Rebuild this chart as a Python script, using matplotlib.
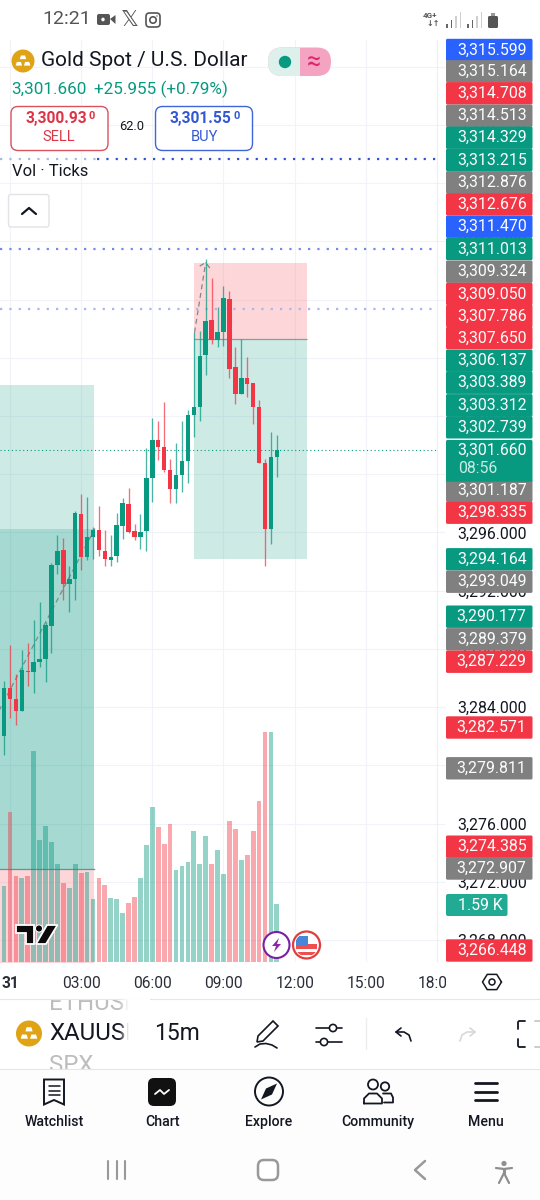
import numpy as np
import matplotlib
matplotlib.use('Agg')
import matplotlib.pyplot as plt
from matplotlib.patches import FancyBboxPatch, Rectangle, Circle, Polygon
from matplotlib.ticker import FuncFormatter

plt.rcParams['font.family'] = ['Roboto', 'DejaVu Sans']

# 15m bars, hours from midnight of the 31st
hours = [-0.5, -0.25, 0.0, 0.25, 0.5, 0.75, 1.0, 1.25, 1.5, 1.75, 2.0, 2.25, 2.5, 2.75, 3.0, 3.25,
         3.5, 3.75, 4.0, 4.25, 4.5, 4.75, 5.0, 5.25, 5.5, 5.75, 6.0, 6.25, 6.5, 6.75, 7.0, 7.25,
         7.5, 7.75, 8.0, 8.25, 8.5, 8.75, 9.0, 9.25, 9.5, 9.75, 10.0, 10.25, 10.5, 10.75, 11.0, 11.25]
opens = [3279.52, 3282.01, 3285.31, 3284.58, 3283.73, 3286.52, 3286.39, 3287.14, 3287.30, 3289.61, 3293.80, 3294.77, 3292.48, 3292.80,
         3297.28, 3294.31, 3295.68, 3296.14, 3294.76, 3294.08, 3294.37, 3296.48, 3297.97, 3296.07, 3295.72, 3296.07, 3299.73, 3302.37,
         3301.86, 3300.30, 3299.00, 3299.98, 3300.94, 3304.08, 3304.65, 3308.18, 3310.58, 3309.19, 3309.76, 3312.05, 3307.38, 3305.48,
         3306.62, 3306.26, 3304.61, 3300.76, 3296.23, 3301.17]
highs = [3282.74, 3285.79, 3288.24, 3286.30, 3287.94, 3288.40, 3289.96, 3291.26, 3289.84, 3293.90, 3295.84, 3295.64, 3293.69, 3297.51,
         3298.61, 3298.43, 3296.37, 3297.81, 3296.14, 3295.84, 3297.37, 3298.38, 3299.05, 3296.60, 3297.24, 3301.81, 3303.83, 3303.69,
         3304.97, 3301.08, 3302.18, 3303.69, 3304.38, 3309.74, 3309.83, 3314.80, 3313.47, 3311.52, 3312.96, 3312.57, 3308.73, 3309.28,
         3308.04, 3306.26, 3305.07, 3301.04, 3302.91, 3302.69]
lows = [3279.24, 3280.75, 3283.27, 3282.75, 3283.73, 3285.43, 3284.97, 3286.75, 3285.72, 3287.71, 3293.16, 3291.33, 3290.51, 3291.38,
        3293.44, 3294.12, 3294.21, 3294.42, 3293.69, 3293.69, 3293.96, 3295.54, 3295.95, 3295.50, 3294.88, 3294.72, 3298.11, 3300.99,
        3300.14, 3298.01, 3298.01, 3298.77, 3299.43, 3302.55, 3303.69, 3306.83, 3308.96, 3308.73, 3308.82, 3306.60, 3304.84, 3305.48,
        3305.29, 3303.42, 3300.76, 3293.69, 3295.18, 3299.80]
closes = [3281.99, 3285.33, 3284.58, 3283.73, 3286.57, 3286.39, 3287.14, 3287.33, 3289.68, 3293.74, 3294.72, 3292.48, 3292.80, 3297.33,
          3294.31, 3295.68, 3296.18, 3294.83, 3294.17, 3294.35, 3296.50, 3298.01, 3296.02, 3295.72, 3296.02, 3299.73, 3302.37, 3301.86,
          3300.30, 3298.98, 3299.98, 3300.90, 3304.06, 3304.61, 3308.13, 3310.56, 3309.19, 3309.74, 3312.12, 3307.26, 3305.48, 3306.62,
          3306.19, 3304.61, 3300.76, 3296.23, 3301.17, 3301.66]
volumes = [1417, 2075, 4113, 2349, 2294, 2349, 5776, 3354, 3720, 3300, 2678, 2175, 2029, 2678, 2450, 2468,
           1718, 2312, 2102, 1764, 1737, 1344, 1627, 1791, 2312, 3217, 4250, 3693, 3226, 3793, 2514, 2623,
           2733, 3601, 2687, 3446, 2696, 3062, 2422, 3875, 3638, 2788, 2934, 3601, 4405, 6307, 6297, 1590]

# position tools: (start, end, levels)
left_span = [-2.0, 3.53]
left_target = 3306.137
left_inner = 3296.21
left_entry = 3272.907
left_stop = 3266.448
right_span = [7.74, 12.50]
right_stop = 3314.513
right_entry = 3309.324
right_target = 3294.164

wave_hours = [-0.5, 3.58]
wave_prices = [3283.64, 3296.27]
arrow_hours = [7.78, 8.25]
arrow_prices = [3309.74, 3314.54]
head_hours = [8.0, 8.25, 8.5]
head_prices = [3314.30, 3314.54, 3314.0]

alert_levels = [3321.62, 3315.44, 3311.32]
last_price = 3301.66

price_ticks = [3268, 3272, 3276, 3280, 3284, 3288, 3292, 3296, 3300, 3304, 3308, 3312, 3316, 3320, 3324, 3328]
time_ticks = [0, 3, 6, 9, 12, 15, 18]
time_labels = ['31', '03:00', '06:00', '09:00', '12:00', '15:00', '18:00']

label_texts = ['3,315.599', '3,315.164', '3,314.708', '3,314.513', '3,314.329', '3,313.215', '3,312.876', '3,312.676',
               '3,311.470', '3,311.013', '3,309.324', '3,309.050', '3,307.786', '3,307.650', '3,306.137', '3,303.389',
               '3,303.312', '3,302.739', '3,301.187', '3,298.335', '3,294.164', '3,293.049', '3,290.177', '3,289.379',
               '3,287.229', '3,282.571', '3,279.811', '3,274.385', '3,272.907', '3,266.448']
label_kinds = ['b', 'k', 'r', 'k', 'g', 'g', 'k', 'r', 'b', 'g', 'k', 'r', 'r', 'r', 'g', 'g',
               'g', 'g', 'k', 'r', 'g', 'k', 'g', 'k', 'r', 'r', 'k', 'r', 'k', 'r']
label_rows = [50, 71.3, 93.3, 115.7, 137.7, 160, 182.3, 204.3, 226.7, 249, 271.7, 294, 316, 338, 360.7, 382.7,
              405.3, 427.3, 490.7, 512.7, 559.3, 581.7, 616.7, 639.3, 661.7, 727.5, 768.3, 846.7, 868.5, 950.5]
nav_names = ['Watchlist', 'Chart', 'Explore', 'Community', 'Menu']
nav_x = [54, 162, 269, 378, 486]

GREEN = '#089981'
RED = '#f23645'
BLUE = '#2962ff'
GRAY = '#808080'
GRID = '#f1f3f8'
PALETTE = {'b': BLUE, 'k': GRAY, 'r': RED, 'g': GREEN}

fig = plt.figure(figsize=(5.4, 12), dpi=100, facecolor='white')
ax = fig.add_axes([0, 1 - 962 / 1200, 437 / 540, 922 / 1200])
ax.set_xlim(3 - 81.3 / 23.77, 3 + (437 - 81.3) / 23.77)
ax.set_ylim(3296 + (532.5 - 962) / 14.56, 3296 + (532.5 - 40) / 14.56)
for s in ['top', 'left', 'bottom']:
    ax.spines[s].set_visible(False)
ax.spines['right'].set_color('#eceff6')
ax.set_axisbelow(True)
ax.grid(color=GRID, lw=0.8)
ax.yaxis.tick_right()
ax.set_yticks(price_ticks)
ax.yaxis.set_major_formatter(FuncFormatter(lambda v, _: f'{v:,.3f}'))
ax.tick_params(axis='y', length=5.8, color=GRID, pad=8.5, labelsize=11.4, labelcolor='#131722')
ax.set_xticks(time_ticks)
ax.set_xticklabels(time_labels)
ax.tick_params(axis='x', length=0, pad=10, labelsize=11.2, labelcolor='#2a2e39')
ax.get_xticklabels()[0].set_fontweight('bold')

# boxes
ax.fill_between(left_span, left_entry, left_target, color=GREEN, alpha=0.2, lw=0, zorder=1)
ax.fill_between(left_span, left_entry, left_inner, color=GREEN, alpha=0.2, lw=0, zorder=1)
ax.fill_between(left_span, left_stop, left_entry, color=RED, alpha=0.2, lw=0, zorder=1)
ax.plot(left_span, [left_entry, left_entry], color='#6f8f89', lw=0.9, zorder=1.5)
ax.fill_between(right_span, right_entry, right_stop, color=RED, alpha=0.2, lw=0, zorder=1)
ax.fill_between(right_span, right_target, right_entry, color=GREEN, alpha=0.2, lw=0, zorder=1)
ax.plot(right_span, [right_entry, right_entry], color='#8f9a98', lw=0.9, zorder=1.5, solid_capstyle='butt')

# dashed wave drawing
for xs, ys in [(wave_hours, wave_prices), (arrow_hours, arrow_prices), (head_hours, head_prices)]:
    ax.plot(xs, ys, color='#7d8a88', lw=0.9, ls=(0, (4, 3)), zorder=2)

# alert lines
ax.plot([ax.get_xlim()[0], 3.65], [alert_levels[0]] * 2, color='#a9b8ea', lw=1.6, ls=(0, (1, 3.2)), zorder=2)
ax.plot([3.65, ax.get_xlim()[1]], [alert_levels[0]] * 2, color='#2f55d4', lw=1.6, ls=(0, (1, 3.2)), zorder=2)
ax.axhline(alert_levels[1], color='#6f8de8', lw=1.6, ls=(0, (1, 3.2)), zorder=2)
ax.axhline(alert_levels[2], color='#aab6ee', lw=1.6, ls=(0, (1, 3.2)), zorder=2)
ax.axhline(last_price, color=GREEN, lw=0.8, ls=(0, (1, 2.4)), zorder=2)

# candles
o = np.array(opens)
c = np.array(closes)
bar_colors = [GREEN if b >= a else RED for a, b in zip(opens, closes)]
ax.vlines(hours, lows, highs, colors=bar_colors, lw=0.95, alpha=0.72, zorder=3)
ax.bar(hours, np.abs(c - o), bottom=np.minimum(o, c), width=0.19, color=bar_colors, lw=0, zorder=4)

# volume pane
vol = fig.add_axes(ax.get_position(), zorder=2)
vol.patch.set_alpha(0)
vol.set_axis_off()
vol.set_xlim(ax.get_xlim())
vol.set_ylim(0, 922 * 27.41)
vol.bar(hours, volumes, width=0.2, color=bar_colors, alpha=0.43, lw=0)

# everything around the chart, in screen pixels
ui = fig.add_axes([0, 0, 1, 1], zorder=3)
ui.patch.set_alpha(0)
ui.set_axis_off()
ui.set_xlim(0, 540)
ui.set_ylim(1200, 0)


def round_box(x0, y0, x1, y1, r=2, fc='white', ec='none', lw=1, z=5):
    p = FancyBboxPatch((x0, y0), x1 - x0, y1 - y0, boxstyle=f'round,pad=0,rounding_size={r}',
                       fc=fc, ec=ec, lw=lw, zorder=z)
    ui.add_patch(p)
    return p


def txt(x, y, s, size=11, color='#131722', ha='left', weight='normal', z=6):
    return ui.text(x, y, s, fontsize=size, color=color, ha=ha, va='center', fontweight=weight, zorder=z)


def stroke(xs, ys, color='#131722', lw=1.2, z=6):
    ui.plot(xs, ys, color=color, lw=lw, zorder=z, solid_capstyle='round', solid_joinstyle='round')


def gold_logo(cx, cy, r):
    ui.add_patch(Circle((cx, cy), r, fc='#dfa315', ec='none', zorder=6))
    for dx, dy in [(0, -0.32), (-0.36, 0.24), (0.36, 0.24)]:
        ui.add_patch(Polygon([(cx + (dx - 0.28) * r, cy + (dy + 0.16) * r), (cx + (dx + 0.28) * r, cy + (dy + 0.16) * r),
                              (cx + (dx + 0.18) * r, cy + (dy - 0.16) * r), (cx + (dx - 0.18) * r, cy + (dy - 0.16) * r)],
                             fc='white', ec='none', zorder=7))


# cover for time axis overflow
ui.add_patch(Rectangle((446, 962), 94, 36, fc='white', ec='none', zorder=1))

# price labels
for s, k, row in zip(label_texts, label_kinds, label_rows):
    round_box(446, row - 11.2, 532.5, row + 11.2, r=1.5, fc=PALETTE[k], z=4)
    txt(526.5, row, s, size=11.4, color='#fbfdfd', ha='right')
round_box(446, 440, 532.5, 481.7, r=1.5, fc=GREEN, z=4)
txt(526.5, 450, '3,301.660', size=11.4, color='#fbfdfd', ha='right')
txt(458, 468.3, '08:56', size=11.4, color='#c8ece5')
round_box(446, 894, 507.5, 916, r=2, fc='#22ab94', z=4)
txt(458, 905, '1.59 K', size=11.4, color='white')

# hexagon settings
ang = np.deg2rad(np.arange(0, 361, 60))
stroke(492 + 9.5 * np.cos(ang), 982 + 8.8 * np.sin(ang), lw=1.1)
ui.add_patch(Circle((492, 982), 3, fc='none', ec='#131722', lw=1.1, zorder=6))

# status bar
txt(42.5, 19, '12:21', size=14, color='#555555')
round_box(97, 14, 110, 25, r=2, fc='#555555')
ui.add_patch(Polygon([(110, 19), (115.5, 15), (115.5, 24)], fc='#555555', ec='none', zorder=6))
ui.add_patch(Circle((103, 19.5), 2, fc='white', ec='#555555', lw=0.3, zorder=7))
txt(129.5, 19.5, '\U0001D54F', size=16, color='#555555', ha='center').set_family('DejaVu Sans')
round_box(146, 13, 160, 27, r=3.5, fc='none', ec='#555555', lw=1.2)
ui.add_patch(Circle((153, 20), 3.2, fc='none', ec='#555555', lw=1.2, zorder=6))
ui.add_patch(Circle((157, 16), 0.7, fc='#555555', ec='none', zorder=6))
txt(423, 15.5, '4G+', size=5.8, color='#555555', weight='bold')
txt(426, 24, '\u2193\u2191', size=5.8, color='#555555', weight='bold').set_family('DejaVu Sans')
for x0 in [446, 467]:
    for dx, h, col in zip([0, 4.5, 9, 13.5], [4, 8, 12, 16], ['#666666', '#666666', '#cfcfcf', '#cfcfcf']):
        ui.add_patch(Rectangle((x0 + dx, 28 - h), 1.7, h, fc=col, ec='none', zorder=6))
round_box(488, 16, 498, 28, r=1.5, fc='#555555')
ui.add_patch(Rectangle((491, 13), 4, 3, fc='#999999', ec='none', zorder=6))

# header
gold_logo(23, 61, 11.5)
txt(41, 61, 'Gold Spot / U.S. Dollar', size=15)
txt(11, 89, '3,301.660', size=12.3, color=GREEN)
txt(93.5, 89, '+25.955 (+0.79%)', size=12.3, color=GREEN)
round_box(268, 47.5, 331, 76, r=14, fc='#f4a3c0')
round_box(268, 47.5, 312, 76, r=14, fc='#def0ec')
ui.add_patch(Rectangle((299.5, 47.5), 14, 28.5, fc='#f4a3c0', ec='none', zorder=5.5))
ui.add_patch(Circle((285, 62), 6.2, fc=GREEN, ec='none', zorder=6))
txt(314, 62, '\u2248', size=18, color='#e0246f', ha='center')

round_box(11, 106.5, 108, 150.5, r=7, ec='#d9525f', lw=1)
txt(25, 118, '3,300.93', size=11.2, color='#dc3548', weight='bold')
txt(88.5, 116, '0', size=8, color='#dc3548', weight='bold')
txt(59, 137, 'SELL', size=10.5, color='#dc3548', ha='center')
txt(119.5, 127, '62.0', size=9.3)
round_box(155.5, 106.5, 252.5, 150.5, r=7, ec='#3f66d8', lw=1)
txt(169.5, 118, '3,301.55', size=11.2, color='#3358d4', weight='bold')
txt(233, 116, '0', size=8, color='#3358d4', weight='bold')
txt(204, 137, 'BUY', size=10.5, color='#3358d4', ha='center')
txt(12, 172, 'Vol \u00b7 Ticks', size=12)
round_box(8.5, 194.5, 49, 227, r=2.5, ec='#e2e3e6', lw=1)
stroke([22, 29, 36], [214, 208, 214], lw=1.6)

# TradingView mark
mark = [[(16, 925), (34, 925), (34, 944), (26, 944), (26, 933), (16, 933)],
        [(47, 925), (57.5, 925), (46, 944), (36, 944)]]
for pts in mark:
    ui.add_patch(Polygon(pts, fc='#0b0b0b', ec='white', lw=1.3, zorder=5))
ui.add_patch(Circle((39, 928.5), 3.6, fc='#0b0b0b', ec='white', lw=0.8, zorder=5))

# event badges
ui.add_patch(Circle((276.5, 945), 13, fc='white', ec='#7b1fa2', lw=1.5, zorder=5))
ui.add_patch(Polygon([(279, 938), (272, 946), (276, 946), (274, 952), (281, 944), (277, 944)], fc='#8e24aa', ec='none', zorder=6))
badge = Circle((306.5, 945), 13.5, fc='white', ec='#e23d3d', lw=1.6, zorder=5)
ui.add_patch(badge)
for r_xy, w, h, col, z in [((296, 944), 21, 4.5, '#ef4f4f', 5.3), ((296, 952), 21, 2.5, '#ef4f4f', 5.3), ((296, 936), 12, 10, '#4a86d8', 5.4)]:
    part = Rectangle(r_xy, w, h, fc=col, ec='none', zorder=z)
    ui.add_patch(part)
    part.set_clip_path(Circle((306.5, 945), 11.5, transform=ui.transData))

# symbol toolbar
ui.add_patch(Rectangle((0, 998), 540, 71, fc='white', ec='none', zorder=5))
txt(49, 1003, 'ETHUSD', size=17.3, color='#bdbdbd', z=5.2)
txt(49, 1065, 'SPX', size=17.3, color='#bdbdbd', z=5.2)
ui.add_patch(Rectangle((40, 988), 110, 10.5, fc='white', ec='none', zorder=5.3))
stroke([0, 540], [999, 999], color='#e6e6e6', lw=0.8)
gold_logo(29, 1033.5, 13)
txt(49, 1034, 'XAUUSD', size=17.3)
fade = np.ones((1, 60, 4))
fade[0, :, 3] = np.clip(np.linspace(-0.1, 3.2, 60), 0, 1)
ui.imshow(fade, extent=(118, 150, 1068.5, 999.5), aspect='auto', zorder=7, interpolation='bilinear')
ui.set_xlim(0, 540)
ui.set_ylim(1200, 0)
txt(154, 1034, '15m', size=16.5)

# pencil
ui.add_patch(Polygon([(258, 1036), (273, 1021), (278, 1026), (263, 1041), (257, 1042)], fc='none', ec='#131722', lw=1.2, zorder=6))
stroke([255, 260, 266, 272, 277], [1047, 1044, 1043.5, 1045, 1048], lw=1.2)
# sliders
stroke([316, 342], [1028, 1028])
stroke([316, 342], [1042, 1042])
ui.add_patch(Circle((333, 1028), 3.6, fc='white', ec='#131722', lw=1.2, zorder=7))
ui.add_patch(Circle((324, 1042), 3.6, fc='white', ec='#131722', lw=1.2, zorder=7))
stroke([366, 366], [1018, 1049], color='#ececec', lw=0.9)
# undo, redo
stroke([411, 409, 404, 396], [1041, 1035, 1032, 1032], lw=1.2)
stroke([401, 396, 401], [1028, 1032, 1036], lw=1.2)
stroke([460, 462, 467, 475], [1041, 1035, 1032, 1032], color='#d8d8d8', lw=1.2)
stroke([470, 475, 470], [1028, 1032, 1036], color='#d8d8d8', lw=1.2)
# fullscreen corners
stroke([525, 519, 518, 518], [1021, 1021, 1022, 1029], lw=1.3)
stroke([518, 518, 519, 525], [1039, 1046, 1047, 1047], lw=1.3)
stroke([535, 540], [1021, 1021], color='#c8c8c8', lw=1.3)
stroke([535, 540], [1047, 1047], color='#c8c8c8', lw=1.3)

# bottom nav
ui.add_patch(Rectangle((0, 1069), 540, 131, fc='#fdfdfd', ec='none', zorder=5.6))
stroke([0, 540], [1069, 1069], color='#e6e6e6', lw=0.8, z=5.7)
for name, x in zip(nav_names, nav_x):
    txt(x, 1122, name, size=10.2, ha='center', weight='medium', z=6)

ui.add_patch(Polygon([(44, 1079.5), (64, 1079.5), (64, 1104.5), (54, 1100), (44, 1104.5)], fc='none', ec='#131722', lw=1.4, zorder=6))
for yy in [1086, 1090.5, 1095]:
    stroke([48.5, 59.5], [yy, yy], lw=1.1)
round_box(148, 1078, 176, 1106, r=6, fc='#111111', z=6)
stroke([155, 160, 164, 169], [1094, 1090, 1094, 1090], color='white', lw=1.3, z=7)
ui.add_patch(Circle((269, 1091.5), 14, fc='none', ec='#131722', lw=1.4, zorder=6))
ui.add_patch(Polygon([(261, 1099.5), (266, 1088.5), (277, 1083.5), (272, 1094.5)], fc='#131722', ec='none', zorder=6))
ui.add_patch(Circle((373, 1084.5), 5, fc='none', ec='#131722', lw=1.3, zorder=6))
ui.add_patch(Circle((385, 1086.5), 4.2, fc='none', ec='#131722', lw=1.3, zorder=6))
stroke([364, 364, 369, 377, 382, 382, 364], [1103.5, 1098.5, 1093.5, 1093.5, 1098.5, 1103.5, 1103.5], lw=1.3)
stroke([383, 391, 393, 393, 384], [1093.5, 1093.5, 1097.5, 1102.5, 1102.5], lw=1.3)
for yy in [1083, 1091.5, 1100]:
    stroke([475, 497], [yy, yy], lw=2)

# android nav
for xx in [108, 117, 125]:
    stroke([xx, xx], [1161, 1179], color='#999999', lw=1.5)
round_box(258, 1160, 278, 1180, r=6, ec='#999999', lw=1.8, z=6)
stroke([425, 415, 425], [1161, 1170, 1179], color='#999999', lw=1.8)
ui.add_patch(Circle((504, 1163.5), 2.6, fc='#8f8f8f', ec='none', zorder=6))
stroke([496, 504, 512], [1168, 1169, 1168], color='#8f8f8f', lw=1.6)
stroke([504, 504], [1169, 1173], color='#8f8f8f', lw=2.2)
stroke([499, 504, 509], [1183, 1173, 1183], color='#8f8f8f', lw=1.6)

fig.savefig('out.png', dpi=100)
